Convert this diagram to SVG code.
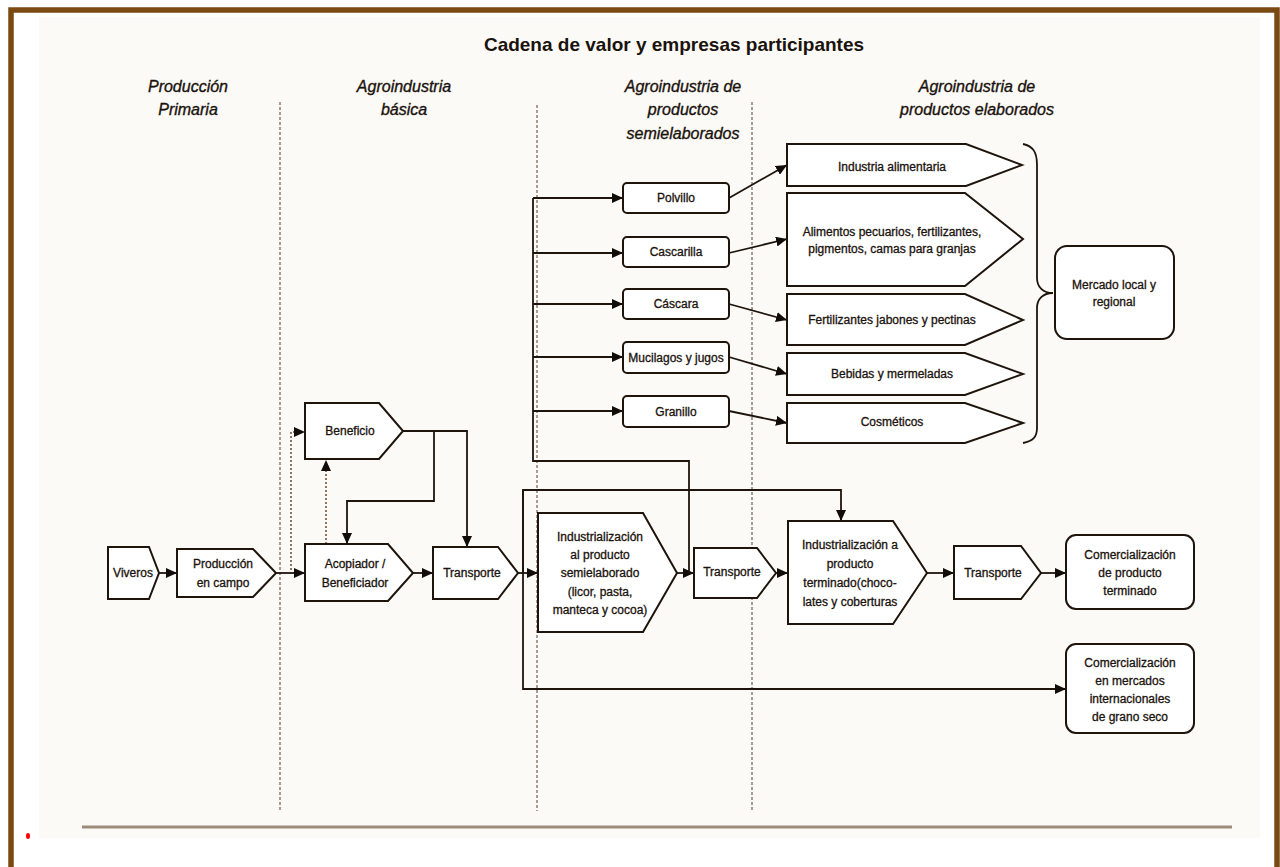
<svg xmlns="http://www.w3.org/2000/svg" width="1280" height="867" viewBox="0 0 1280 867">
<defs>
<style>
.nd{fill:#ffffff;stroke:#1e140c;stroke-width:2}
.t{font-family:"Liberation Sans",Arial,sans-serif;font-size:12px;fill:#1a120c;stroke:#1a120c;stroke-width:0.3;text-anchor:middle}
.h{font-family:"Liberation Sans",Arial,sans-serif;font-size:16px;font-style:italic;fill:#1a120c;stroke:#1a120c;stroke-width:0.35;text-anchor:middle}
.c{fill:none;stroke:#1e140c;stroke-width:1.8}
.dot{fill:none;stroke:#6b4a30;stroke-width:1.5;stroke-dasharray:2 2}
.sep{fill:none;stroke:#5b3a2a;stroke-width:1;stroke-dasharray:3 2}
</style>
<marker id="ah" markerUnits="userSpaceOnUse" markerWidth="11" markerHeight="10" refX="11" refY="5" orient="auto">
<path d="M0,0 L11,5 L0,10 z" fill="#120c08"/>
</marker>
</defs>
<rect x="0" y="0" width="1280" height="867" fill="#ffffff"/>
<rect x="11" y="10" width="1266" height="900" fill="none" stroke="#7a4a12" stroke-width="5.5"/>
<rect x="39" y="17" width="1221" height="821" fill="#fbfaf7"/>
<rect x="82" y="825.5" width="1150" height="3" fill="#9d8b7c"/>
<ellipse cx="28" cy="836" rx="2" ry="3" fill="#ff0000"/>

<g id="title">
<text x="674" y="51" font-family="Liberation Sans,Arial,sans-serif" font-size="19" font-weight="bold" fill="#1a120c" text-anchor="middle">Cadena de valor y empresas participantes</text>
</g>
<g id="headers">
<text class="h" x="188" y="92">Producción</text>
<text class="h" x="188" y="115">Primaria</text>
<text class="h" x="404" y="92">Agroindustria</text>
<text class="h" x="404" y="115">básica</text>
<text class="h" x="683" y="92">Agroindustria de</text>
<text class="h" x="683" y="115">productos</text>
<text class="h" x="683" y="139">semielaborados</text>
<text class="h" x="977" y="92">Agroindustria de</text>
<text class="h" x="977" y="115">productos elaborados</text>
</g>
<g id="separators">
<line class="sep" x1="280" y1="102" x2="280" y2="811"/>
<line class="sep" x1="537" y1="105" x2="537" y2="811"/>
<line class="sep" x1="752" y1="102" x2="752" y2="811"/>
</g>

<g id="connectors">
<path class="c" d="M159,573 L177,573" marker-end="url(#ah)"/>
<path class="c" d="M276,573 L305,573" marker-end="url(#ah)"/>
<path class="dot" d="M291,570 L291,432 L305,432" marker-end="url(#ah)"/>
<path class="dot" d="M326,544 L326,460" marker-end="url(#ah)"/>
<path class="c" d="M403,431 L467,431 L467,547" marker-end="url(#ah)"/>
<path class="c" d="M434,431 L434,501 L347,501 L347,544" marker-end="url(#ah)"/>
<path class="c" d="M413,573 L433,573" marker-end="url(#ah)"/>
<path class="c" d="M518,573 L538,573" marker-end="url(#ah)"/>
<path class="c" d="M523,573 L523,490 L841,490 L841,521" marker-end="url(#ah)"/>
<path class="c" d="M523,490 L523,689 L1066,689" marker-end="url(#ah)"/>
<path class="c" d="M677,573 L694,573" marker-end="url(#ah)"/>
<path class="c" d="M689,573 L689,461 L533,461 L533,198"/>
<path class="c" d="M533,198 L623,198" marker-end="url(#ah)"/>
<path class="c" d="M533,253 L623,253" marker-end="url(#ah)"/>
<path class="c" d="M533,304 L623,304" marker-end="url(#ah)"/>
<path class="c" d="M533,357 L623,357" marker-end="url(#ah)"/>
<path class="c" d="M533,411 L623,411" marker-end="url(#ah)"/>
<path class="c" d="M729,198 L787,165" marker-end="url(#ah)"/>
<path class="c" d="M729,253 L787,239" marker-end="url(#ah)"/>
<path class="c" d="M729,304 L787,320" marker-end="url(#ah)"/>
<path class="c" d="M729,357 L787,374" marker-end="url(#ah)"/>
<path class="c" d="M729,411 L787,423" marker-end="url(#ah)"/>
<path class="c" d="M776,573 L788,573" marker-end="url(#ah)"/>
<path class="c" d="M927,573 L954,573" marker-end="url(#ah)"/>
<path class="c" d="M1041,573 L1066,573" marker-end="url(#ah)"/>
<path class="c" d="M1023,144 C1033,146 1037,152 1037,165 L1037,278 C1037,287 1043,293 1053,293 C1043,293 1037,299 1037,308 L1037,428 C1037,437 1033,441 1023,443"/>
</g>

<g id="viveros">
<polygon class="nd" points="108,547 149,547 159,573 149,599 108,599"/>
<text class="t" x="133" y="577">Viveros</text>
</g>
<g id="produccion">
<polygon class="nd" points="177,549 253,549 276,573 253,597 177,597"/>
<text class="t" x="223" y="568">Producción</text>
<text class="t" x="223" y="587">en campo</text>
</g>
<g id="acopiador">
<polygon class="nd" points="305,544 388,544 413,573 388,601 305,601"/>
<text class="t" x="355" y="568">Acopiador /</text>
<text class="t" x="355" y="587">Beneficiador</text>
</g>
<g id="beneficio">
<polygon class="nd" points="305,403 379,403 403,431 379,459 305,459"/>
<text class="t" x="350" y="435">Beneficio</text>
</g>
<g id="transporte1">
<polygon class="nd" points="433,547 498,547 518,573 498,599 433,599"/>
<text class="t" x="472" y="577" font-size="10.5">Transporte</text>
</g>
<g id="semielaborado">
<polygon class="nd" points="538,513 643,513 677,573 643,632 538,632"/>
<text class="t" x="600" y="541">Industrialización</text>
<text class="t" x="600" y="559">al producto</text>
<text class="t" x="600" y="577">semielaborado</text>
<text class="t" x="600" y="596">(licor, pasta,</text>
<text class="t" x="600" y="614">manteca y cocoa)</text>
</g>
<g id="transporte2">
<polygon class="nd" points="694,548 757,548 776,573 757,598 694,598"/>
<text class="t" x="732" y="576" font-size="9.3">Transporte</text>
</g>
<g id="terminado">
<polygon class="nd" points="788,521 893,521 927,573 893,624 788,624"/>
<text class="t" x="850" y="549">Industrialización a</text>
<text class="t" x="850" y="568">producto</text>
<text class="t" x="850" y="587">terminado(choco-</text>
<text class="t" x="850" y="606">lates y coberturas</text>
</g>
<g id="transporte3">
<polygon class="nd" points="954,546 1021,546 1041,573 1021,599 954,599"/>
<text class="t" x="993" y="577" font-size="10.5">Transporte</text>
</g>
<g id="com-terminado">
<rect class="nd" x="1066" y="535" width="128" height="74" rx="10"/>
<text class="t" x="1130" y="559">Comercialización</text>
<text class="t" x="1130" y="577">de producto</text>
<text class="t" x="1130" y="595">terminado</text>
</g>
<g id="com-internacional">
<rect class="nd" x="1066" y="644" width="128" height="89" rx="10"/>
<text class="t" x="1130" y="667">Comercialización</text>
<text class="t" x="1130" y="685">en mercados</text>
<text class="t" x="1130" y="703">internacionales</text>
<text class="t" x="1130" y="721">de grano seco</text>
</g>
<g id="polvillo">
<rect class="nd" x="623" y="183" width="106" height="30" rx="4"/>
<text class="t" x="676" y="202">Polvillo</text>
</g>
<g id="cascarilla">
<rect class="nd" x="623" y="237" width="106" height="30" rx="4"/>
<text class="t" x="676" y="256">Cascarilla</text>
</g>
<g id="cascara">
<rect class="nd" x="623" y="289" width="106" height="30" rx="4"/>
<text class="t" x="676" y="308">Cáscara</text>
</g>
<g id="mucilagos">
<rect class="nd" x="623" y="342" width="106" height="31" rx="4"/>
<text class="t" x="676" y="362">Mucilagos y jugos</text>
</g>
<g id="granillo">
<rect class="nd" x="623" y="396" width="106" height="31" rx="4"/>
<text class="t" x="676" y="416">Granillo</text>
</g>
<g id="industria-alimentaria">
<polygon class="nd" points="787,144 966,144 1022,165 966,186 787,186"/>
<text class="t" x="892" y="171">Industria alimentaria</text>
</g>
<g id="alimentos-pecuarios">
<polygon class="nd" points="787,193 965,193 1023,239 965,286 787,286"/>
<text class="t" x="892" y="236">Alimentos pecuarios, fertilizantes,</text>
<text class="t" x="892" y="253">pigmentos, camas para granjas</text>
</g>
<g id="fertilizantes">
<polygon class="nd" points="787,294 965,294 1023,320 965,345 787,345"/>
<text class="t" x="892" y="324">Fertilizantes jabones y pectinas</text>
</g>
<g id="bebidas">
<polygon class="nd" points="787,353 965,353 1023,374 965,395 787,395"/>
<text class="t" x="892" y="378">Bebidas y mermeladas</text>
</g>
<g id="cosmeticos">
<polygon class="nd" points="787,403 965,403 1023,423 965,443 787,443"/>
<text class="t" x="892" y="426">Cosméticos</text>
</g>
<g id="mercado">
<rect class="nd" x="1055" y="246" width="119" height="93" rx="12"/>
<text class="t" x="1114" y="289">Mercado local y</text>
<text class="t" x="1114" y="306">regional</text>
</g>
</svg>
